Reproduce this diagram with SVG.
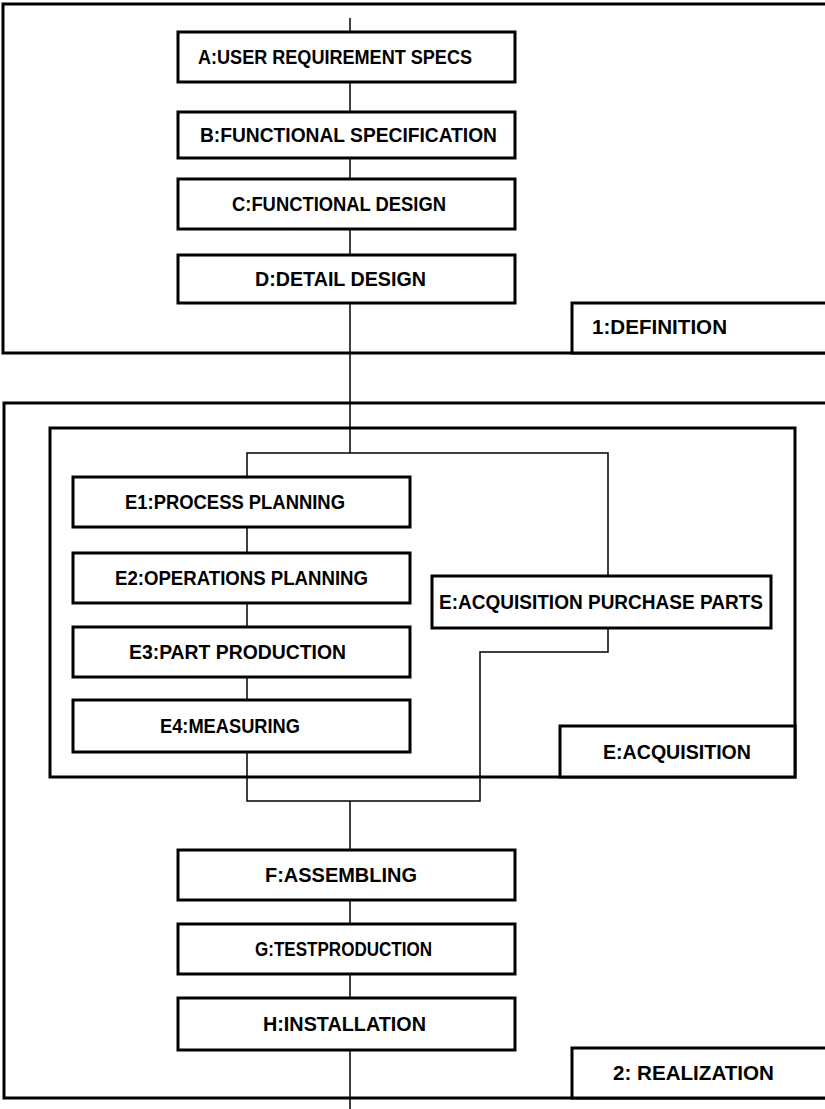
<svg xmlns="http://www.w3.org/2000/svg" width="825" height="1109" viewBox="0 0 825 1109">
  <style>
    .frame { fill: none; stroke: #000; stroke-width: 3; }
    .box { fill: #fff; stroke: #000; stroke-width: 3; }
    .wire { fill: none; stroke: #000; stroke-width: 1.5; }
    .lbl { font-family: "Liberation Sans", Arial, sans-serif; font-weight: bold; font-size: 21px; fill: #000; }
  </style>
  <rect x="0" y="0" width="825" height="1109" fill="#fff"/>

  <!-- phase frames -->
  <g id="phase-definition">
    <rect class="frame" x="3" y="4" width="830" height="349"/>
  </g>
  <g id="phase-realization">
    <rect class="frame" x="4" y="403" width="830" height="695"/>
  </g>
  <g id="group-acquisition">
    <rect class="frame" x="50" y="428" width="745" height="349"/>
  </g>

  <!-- connectors -->
  <g id="connectors">
    <line class="wire" x1="350" y1="18" x2="350" y2="453"/>
    <polyline class="wire" points="247,477 247,453 608,453 608,576"/>
    <line class="wire" x1="247" y1="527" x2="247" y2="700"/>
    <polyline class="wire" points="608,628 608,652 480,652 480,801 247,801 247,752"/>
    <line class="wire" x1="350" y1="801" x2="350" y2="1109"/>
  </g>

  <g id="node-a">
    <rect class="box" x="178" y="32" width="337" height="50"/>
    <text class="lbl" x="198" y="64" textLength="274" lengthAdjust="spacingAndGlyphs">A:USER REQUIREMENT SPECS</text>
  </g>
  <g id="node-b">
    <rect class="box" x="178" y="112" width="337" height="46"/>
    <text class="lbl" x="200" y="142" textLength="297" lengthAdjust="spacingAndGlyphs">B:FUNCTIONAL SPECIFICATION</text>
  </g>
  <g id="node-c">
    <rect class="box" x="178" y="179" width="337" height="50"/>
    <text class="lbl" x="232" y="211" textLength="214" lengthAdjust="spacingAndGlyphs">C:FUNCTIONAL DESIGN</text>
  </g>
  <g id="node-d">
    <rect class="box" x="178" y="255" width="337" height="48"/>
    <text class="lbl" x="255" y="286" textLength="171" lengthAdjust="spacingAndGlyphs">D:DETAIL DESIGN</text>
  </g>
  <g id="label-definition">
    <rect class="box" x="572" y="303" width="260" height="50"/>
    <text class="lbl" x="592" y="334" textLength="135" lengthAdjust="spacingAndGlyphs">1:DEFINITION</text>
  </g>

  <g id="node-e1">
    <rect class="box" x="73" y="477" width="337" height="50"/>
    <text class="lbl" x="125" y="509" textLength="220" lengthAdjust="spacingAndGlyphs">E1:PROCESS PLANNING</text>
  </g>
  <g id="node-e2">
    <rect class="box" x="73" y="553" width="337" height="50"/>
    <text class="lbl" x="115" y="585" textLength="253" lengthAdjust="spacingAndGlyphs">E2:OPERATIONS PLANNING</text>
  </g>
  <g id="node-e3">
    <rect class="box" x="73" y="627" width="337" height="50"/>
    <text class="lbl" x="129" y="659" textLength="217" lengthAdjust="spacingAndGlyphs">E3:PART PRODUCTION</text>
  </g>
  <g id="node-e4">
    <rect class="box" x="73" y="700" width="337" height="52"/>
    <text class="lbl" x="160" y="733" textLength="140" lengthAdjust="spacingAndGlyphs">E4:MEASURING</text>
  </g>
  <g id="node-purchase">
    <rect class="box" x="432" y="576" width="339" height="52"/>
    <text class="lbl" x="439" y="609" textLength="324" lengthAdjust="spacingAndGlyphs">E:ACQUISITION PURCHASE PARTS</text>
  </g>
  <g id="label-acquisition">
    <rect class="box" x="560" y="726" width="235" height="51"/>
    <text class="lbl" x="603" y="759" textLength="148" lengthAdjust="spacingAndGlyphs">E:ACQUISITION</text>
  </g>

  <g id="node-f">
    <rect class="box" x="178" y="850" width="337" height="50"/>
    <text class="lbl" x="265" y="882" textLength="152" lengthAdjust="spacingAndGlyphs">F:ASSEMBLING</text>
  </g>
  <g id="node-g">
    <rect class="box" x="178" y="924" width="337" height="50"/>
    <text class="lbl" x="255" y="956" textLength="177" lengthAdjust="spacingAndGlyphs">G:TESTPRODUCTION</text>
  </g>
  <g id="node-h">
    <rect class="box" x="178" y="998" width="337" height="52"/>
    <text class="lbl" x="263" y="1031" textLength="163" lengthAdjust="spacingAndGlyphs">H:INSTALLATION</text>
  </g>
  <g id="label-realization">
    <rect class="box" x="572" y="1048" width="260" height="50"/>
    <text class="lbl" x="613" y="1080" textLength="161" lengthAdjust="spacingAndGlyphs">2: REALIZATION</text>
  </g>
</svg>
